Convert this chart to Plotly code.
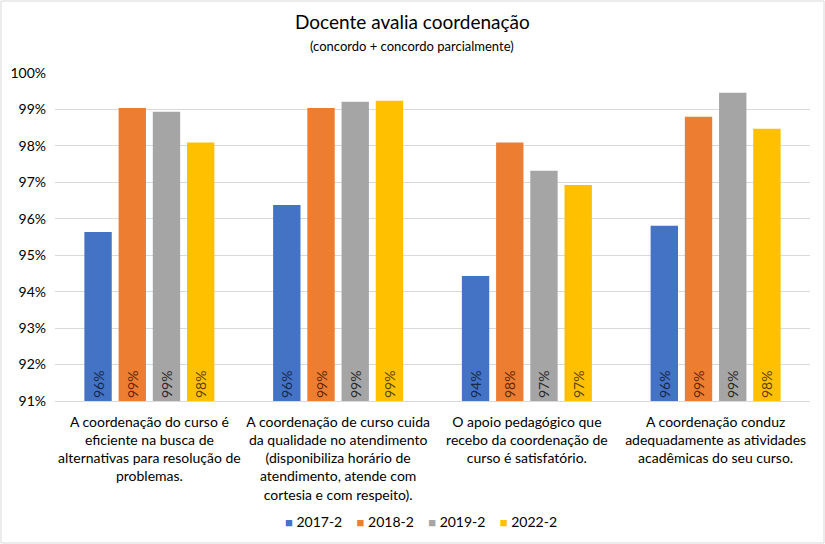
import plotly.graph_objects as go

categories = [
    "A coordenação do curso é<br>eficiente na busca de<br>alternativas para resolução de<br>problemas.",
    "A coordenação de curso cuida<br>da qualidade no atendimento<br>(disponibiliza horário de<br>atendimento, atende com<br>cortesia e com respeito).",
    "O apoio pedagógico que<br>recebo da coordenação de<br>curso é satisfatório.",
    "A coordenação conduz<br>adequadamente as atividades<br>acadêmicas do seu curso.",
]
series_names = ["2017-2", "2018-2", "2019-2", "2022-2"]
v2017 = [0.9564, 0.9638, 0.9443, 0.9581]
v2018 = [0.9904, 0.9904, 0.9809, 0.9880]
v2019 = [0.9894, 0.9921, 0.9732, 0.9946]
v2022 = [0.9809, 0.9924, 0.9693, 0.9847]
series_values = [v2017, v2018, v2019, v2022]
bar_colors = ["#4472C4", "#ED7D31", "#A5A5A5", "#FFC000"]
text_colors = ["#172A4A", "#5E2A08", "#2A2A2A", "#5C4500"]
y_min, y_max = 0.91, 1.0
y_ticks = [0.91, 0.92, 0.93, 0.94, 0.95, 0.96, 0.97, 0.98, 0.99, 1.00]

FONT = "Lato, 'Open Sans', sans-serif"
W, H = 825, 544
ML, MR, MT, MB = 55, 15, 73, 143

fig = go.Figure()
for name, vals, col, tcol in zip(series_names, series_values, bar_colors, text_colors):
    fig.add_trace(go.Bar(
        name=name,
        x=categories,
        y=[v - y_min for v in vals],
        base=y_min,
        customdata=vals,
        texttemplate="%{customdata:.0%}",
        textposition="inside",
        insidetextanchor="start",
        textangle=-90,
        constraintext="none",
        textfont=dict(family=FONT, size=14, color=tcol),
        insidetextfont=dict(family=FONT, size=14, color=tcol),
        marker=dict(color=col, line=dict(width=0)),
        hovertemplate="%{x}<br>%{customdata:.2%}<extra>" + name + "</extra>",
        showlegend=False,
    ))

pw = W - ML - MR
ph = H - MT - MB
fig.add_shape(type="rect", xref="paper", yref="paper",
              x0=-(ML - 1) / pw, x1=1 + (MR - 1) / pw,
              y0=-(MB - 1) / ph, y1=1 + (MT - 1) / ph,
              line=dict(color="#D9D9D9", width=1), fillcolor="rgba(0,0,0,0)", layer="below")

fig.add_annotation(text="Docente avalia coordenação", xref="paper", yref="paper",
                   x=(412 - ML) / pw, y=1 + (MT - 22) / ph, showarrow=False,
                   font=dict(family=FONT, size=19, color="#000000"), yanchor="middle")
fig.add_annotation(text="(concordo + concordo parcialmente)", xref="paper", yref="paper",
                   x=(412 - ML) / pw, y=1 + (MT - 46) / ph, showarrow=False,
                   font=dict(family=FONT, size=13, color="#000000"), yanchor="middle")

# legend built as one line of text
legend_parts = []
for name, col in zip(series_names, bar_colors):
    legend_parts.append(
        f"<span style='color:{col};font-size:13px'>■</span> {name}"
    )
fig.add_annotation(text="&nbsp;&nbsp;&nbsp;&nbsp;".join(legend_parts), xref="paper", yref="paper",
                   x=(421 - ML) / pw, y=-(521 - MT - ph) / ph, showarrow=False,
                   font=dict(family=FONT, size=14, color="#000000"), yanchor="middle")

fig.update_layout(
    width=W, height=H,
    margin=dict(l=ML, r=MR, t=MT, b=MB, autoexpand=False),
    paper_bgcolor="white", plot_bgcolor="white",
    barmode="group", bargap=0.275, bargroupgap=0.2,
    font=dict(family=FONT, size=13, color="#000000"),
    showlegend=False,
)
fig.update_xaxes(showgrid=False, showline=True, linecolor="#D9D9D9", linewidth=1,
                 ticks="", ticklabelstandoff=8,
                 tickfont=dict(family=FONT, size=14, color="#000000"))
fig.update_yaxes(range=[y_min, y_max], tickvals=y_ticks, tickformat=".0%",
                 showgrid=True, gridcolor="#D9D9D9", gridwidth=1, zeroline=False,
                 showline=False, ticks="", ticklabelstandoff=8,
                 tickfont=dict(family=FONT, size=14, color="#000000"))

fig.write_html("out.html", config={"displayModeBar": False},
               post_script="document.body.style.margin='0';")
